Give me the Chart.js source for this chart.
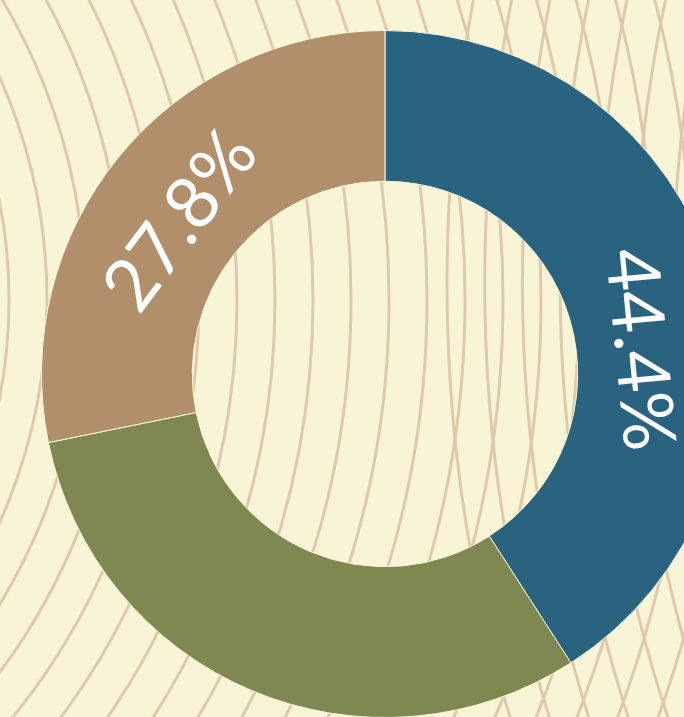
<!DOCTYPE html>
<html lang="en">
<head>
<meta charset="UTF-8">
<title>Share doughnut</title>
<script src="https://cdn.jsdelivr.net/npm/chart.js"></script>
<style>
    html, body { margin: 0; padding: 0; overflow: hidden; background: #f8f5d7; }
    #wrap { width: 770px; height: 748px; }
</style>
</head>
<body>
    <div id="wrap">
        <canvas id="ringChart" width="770" height="748"></canvas>
    </div>
    <script>
        // values (share of the full circle)
        const categories = ['Blue', 'Green', 'Tan'];
        const shares = [40.9, 30.9, 28.2];
        const valueLabels = ['44.4%', '', '27.8%'];
        const sliceColors = ['#2a6380', '#808852', '#b08f6a'];

        // wavy backdrop: two sets of concentric rings
        const backdrop = {
            id: 'backdrop',
            beforeDraw(chart) {
                const c = chart.ctx;
                c.save();
                c.fillStyle = '#f8f5d7';
                c.fillRect(0, 0, chart.width, chart.height);
                c.strokeStyle = '#e0c9ab';
                c.lineWidth = 3;
                for (let r = 509; r < 1360; r += 38) {
                    c.beginPath();
                    c.arc(-500, 300, r, 0, Math.PI * 2);
                    c.stroke();
                }
                for (let r = 1530; r > 1190; r -= 37.7) {
                    c.beginPath();
                    c.arc(1977, 283, r, 0, Math.PI * 2);
                    c.stroke();
                }
                c.restore();
            }
        };

        // percentage text written along the ring
        const ringLabels = {
            id: 'ringLabels',
            afterDatasetsDraw(chart, args, opts) {
                const c = chart.ctx;
                const meta = chart.getDatasetMeta(0);
                meta.data.forEach((arc, i) => {
                    const txt = valueLabels[i];
                    if (!txt) return;
                    const p = arc.getProps(['x', 'y', 'startAngle', 'endAngle', 'innerRadius', 'outerRadius']);
                    const mid = (p.startAngle + p.endAngle) / 2 + (opts.nudge[i] || 0) * Math.PI / 180;
                    const rr = (p.innerRadius + p.outerRadius) / 2 - 13;
                    c.save();
                    c.translate(p.x + Math.cos(mid) * rr, p.y + Math.sin(mid) * rr);
                    c.rotate(mid + Math.PI / 2);
                    c.fillStyle = '#ffffff';
                    c.font = '400 73px Lato, "Open Sans", sans-serif';
                    c.textAlign = 'center';
                    c.textBaseline = 'middle';
                    c.fillText(txt, 0, 0);
                    c.restore();
                });
            }
        };

        const ctx = document.getElementById('ringChart').getContext('2d');
        new Chart(ctx, {
            type: 'doughnut',
            data: {
                labels: categories,
                datasets: [{
                    data: shares,
                    backgroundColor: sliceColors,
                    borderColor: '#f8f5d7',
                    borderWidth: 1
                }]
            },
            options: {
                responsive: false,
                animation: false,
                events: [],
                radius: 343.5,
                cutout: '56.1%',
                layout: { padding: 0 },
                plugins: {
                    legend: { display: false },
                    tooltip: { enabled: false },
                    ringLabels: { nudge: [10.9, 0, -2.4] }
                }
            },
            plugins: [backdrop, ringLabels]
        });
    </script>
</body>
</html>
